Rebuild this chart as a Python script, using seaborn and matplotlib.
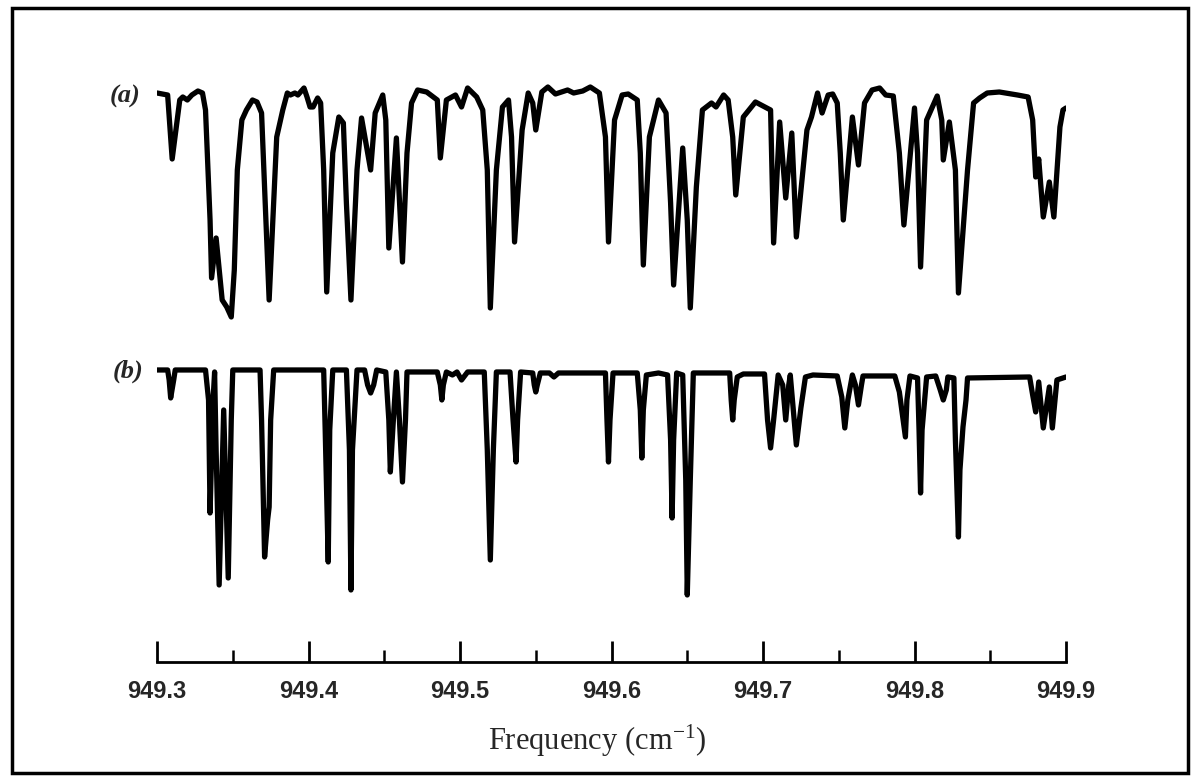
import matplotlib
matplotlib.use("Agg")
import matplotlib.pyplot as plt
import seaborn as sns
import pandas as pd

# ---- data: trace (a) observed spectrum, trace (b) simulated spectrum ----
freq_a = [949.300, 949.307, 949.310, 949.315, 949.317, 949.320, 949.323, 949.327, 949.330, 949.332,
          949.335, 949.336, 949.339, 949.343, 949.346, 949.349, 949.351, 949.353, 949.356, 949.359,
          949.363, 949.366, 949.369, 949.371, 949.374, 949.377, 949.379, 949.383, 949.386, 949.388,
          949.391, 949.393, 949.397, 949.399, 949.401, 949.403, 949.406, 949.408, 949.410, 949.412,
          949.416, 949.420, 949.423, 949.425, 949.428, 949.432, 949.435, 949.439, 949.441, 949.444,
          949.449, 949.451, 949.453, 949.458, 949.462, 949.465, 949.468, 949.472, 949.478, 949.485,
          949.487, 949.491, 949.497, 949.501, 949.505, 949.511, 949.515, 949.518, 949.520, 949.524,
          949.528, 949.532, 949.534, 949.536, 949.541, 949.545, 949.548, 949.550, 949.554, 949.558,
          949.563, 949.571, 949.575, 949.581, 949.586, 949.592, 949.596, 949.598, 949.602, 949.607,
          949.611, 949.617, 949.619, 949.621, 949.625, 949.631, 949.636, 949.639, 949.641, 949.647,
          949.650, 949.652, 949.656, 949.660, 949.666, 949.669, 949.674, 949.677, 949.680, 949.682,
          949.687, 949.695, 949.705, 949.707, 949.711, 949.715, 949.719, 949.722, 949.729, 949.732,
          949.736, 949.739, 949.743, 949.746, 949.749, 949.751, 949.753, 949.759, 949.763, 949.767,
          949.772, 949.777, 949.781, 949.786, 949.790, 949.793, 949.800, 949.802, 949.804, 949.808,
          949.815, 949.818, 949.819, 949.823, 949.827, 949.829, 949.835, 949.839, 949.843, 949.848,
          949.856, 949.868, 949.875, 949.878, 949.880, 949.882, 949.885, 949.889, 949.892, 949.896,
          949.898, 949.900]
signal_a = [569, 567, 503, 562, 565, 562, 567, 571, 569, 552,
            442, 384, 424, 362, 355, 345, 392, 492, 542, 552,
            562, 560, 549, 475, 362, 459, 525, 552, 569, 567,
            569, 567, 574, 565, 555, 555, 564, 559, 492, 370,
            509, 545, 539, 459, 362, 492, 544, 509, 492, 549,
            567, 542, 414, 524, 400, 509, 559, 572, 570, 562,
            504, 562, 567, 555, 574, 565, 552, 492, 354, 492,
            555, 562, 525, 420, 532, 569, 559, 532, 570, 575,
            568, 572, 569, 571, 575, 569, 525, 420, 542, 567,
            568, 562, 509, 397, 525, 562, 549, 459, 377, 514,
            442, 354, 475, 552, 559, 555, 567, 562, 525, 467,
            545, 560, 552, 419, 540, 464, 529, 425, 532, 545,
            569, 549, 567, 568, 559, 509, 442, 545, 497, 559,
            572, 574, 567, 566, 509, 437, 554, 509, 395, 542,
            566, 542, 502, 540, 492, 369, 492, 559, 564, 569,
            570, 567, 565, 542, 485, 503, 445, 480, 445, 535,
            552, 554]

freq_b = [949.300, 949.307, 949.308, 949.309, 949.311, 949.312, 949.332, 949.334, 949.335, 949.337,
          949.338, 949.339, 949.341, 949.344, 949.347, 949.349, 949.350, 949.368, 949.369, 949.371,
          949.373, 949.374, 949.375, 949.377, 949.410, 949.411, 949.413, 949.414, 949.416, 949.425,
          949.427, 949.428, 949.429, 949.432, 949.437, 949.439, 949.441, 949.443, 949.445, 949.451,
          949.453, 949.454, 949.456, 949.458, 949.460, 949.462, 949.464, 949.465, 949.485, 949.487,
          949.488, 949.489, 949.491, 949.495, 949.498, 949.501, 949.505, 949.516, 949.518, 949.520,
          949.522, 949.524, 949.533, 949.535, 949.537, 949.538, 949.540, 949.548, 949.549, 949.550,
          949.551, 949.553, 949.559, 949.562, 949.565, 949.596, 949.597, 949.598, 949.599, 949.601,
          949.617, 949.619, 949.620, 949.621, 949.623, 949.631, 949.637, 949.639, 949.640, 949.641,
          949.643, 949.647, 949.649, 949.650, 949.652, 949.654, 949.678, 949.679, 949.680, 949.681,
          949.683, 949.687, 949.701, 949.703, 949.705, 949.707, 949.710, 949.713, 949.715, 949.717,
          949.718, 949.720, 949.722, 949.724, 949.725, 949.728, 949.733, 949.749, 949.752, 949.754,
          949.756, 949.759, 949.761, 949.763, 949.765, 949.766, 949.787, 949.790, 949.794, 949.795,
          949.797, 949.802, 949.803, 949.804, 949.805, 949.808, 949.814, 949.817, 949.819, 949.821,
          949.822, 949.826, 949.827, 949.829, 949.830, 949.832, 949.834, 949.835, 949.876, 949.878,
          949.880, 949.882, 949.885, 949.889, 949.891, 949.894, 949.900]
signal_b = [292, 292, 282, 264, 282, 292, 292, 262, 149, 262,
            290, 212, 77, 252, 84, 242, 292, 292, 242, 105,
            142, 155, 242, 292, 292, 232, 100, 232, 292, 292,
            212, 72, 212, 292, 292, 277, 269, 277, 292, 290,
            242, 190, 242, 290, 242, 180, 242, 290, 290, 277,
            262, 277, 290, 287, 290, 282, 290, 290, 212, 102,
            212, 290, 290, 242, 200, 242, 290, 289, 277, 270,
            277, 289, 289, 285, 289, 289, 242, 200, 242, 289,
            289, 252, 204, 252, 287, 289, 287, 222, 144, 222,
            289, 287, 182, 67, 182, 289, 289, 262, 242, 262,
            285, 288, 288, 242, 214, 242, 287, 277, 242, 277,
            287, 252, 217, 242, 254, 285, 287, 286, 265, 234,
            262, 287, 277, 257, 277, 286, 286, 270, 225, 262,
            286, 284, 232, 169, 232, 285, 286, 272, 262, 272,
            285, 284, 222, 125, 192, 235, 262, 284, 285, 267,
            250, 280, 234, 275, 234, 282, 285]

tick_values = [949.3, 949.4, 949.5, 949.6, 949.7, 949.8, 949.9]
tick_labels = ["949.3", "949.4", "949.5", "949.6", "949.7", "949.8", "949.9"]
minor_values = [949.35, 949.45, 949.55, 949.65, 949.75, 949.85]
trace_labels = ["(a)", "(b)"]

df_a = pd.DataFrame({"freq": freq_a, "signal": signal_a})
df_b = pd.DataFrame({"freq": freq_b, "signal": signal_b})

sns.set_theme(style="white")
plt.rcParams["font.family"] = ["Liberation Sans", "DejaVu Sans"]
plt.rcParams["mathtext.fontset"] = "custom"
plt.rcParams["mathtext.rm"] = "Liberation Serif"
plt.rcParams["mathtext.it"] = "Liberation Serif:italic"

fig = plt.figure(figsize=(11.96, 7.82), dpi=100)
fig.patch.set_facecolor("white")

# outer frame
frame = plt.Rectangle((0.010, 0.0115), 0.983, 0.978, transform=fig.transFigure,
                      fill=False, edgecolor="black", linewidth=2.5)
fig.patches.append(frame)

ax = fig.add_axes([0.1313, 0.1535, 0.7600, 0.7442])
for d in (df_a, df_b):
    sns.lineplot(data=d, x="freq", y="signal", ax=ax, color="black", linewidth=3.8,
                 estimator=None, sort=False, legend=False)
for line in ax.get_lines():
    line.set_solid_joinstyle("round")
    line.set_solid_capstyle("round")

ax.set_xlim(949.3, 949.9)
ax.set_ylim(0, 582)
ax.set_facecolor("white")
for s in ("left", "right", "top"):
    ax.spines[s].set_visible(False)
ax.spines["bottom"].set_linewidth(2.0)
ax.spines["bottom"].set_color("black")
ax.set_yticks([])
ax.set_xticks(tick_values)
ax.set_xticklabels(tick_labels, fontsize=17, fontweight="bold",
                   family=["Liberation Sans", "DejaVu Sans"])
ax.set_xticks(minor_values, minor=True)
ax.tick_params(axis="x", which="major", direction="in", length=15, width=2, pad=13,
               color="black", bottom=True)
ax.tick_params(axis="x", which="minor", direction="in", length=9, width=1.8,
               color="black", bottom=True)
ax.set_xlabel("")
ax.set_ylabel("")

fig.text(0.499, 0.052, "Frequency (cm$^{\\mathregular{-1}}$)", ha="center", va="center",
         fontsize=22, family=["Liberation Serif", "DejaVu Serif"])

fig.text(0.1045, 0.877, trace_labels[0], ha="center", va="center", fontsize=19,
         fontweight="bold", fontstyle="italic", family=["Liberation Serif", "DejaVu Serif"])
fig.text(0.1075, 0.525, trace_labels[1], ha="center", va="center", fontsize=19,
         fontweight="bold", fontstyle="italic", family=["Liberation Serif", "DejaVu Serif"])

fig.savefig("out.png", dpi=100, facecolor="white")
